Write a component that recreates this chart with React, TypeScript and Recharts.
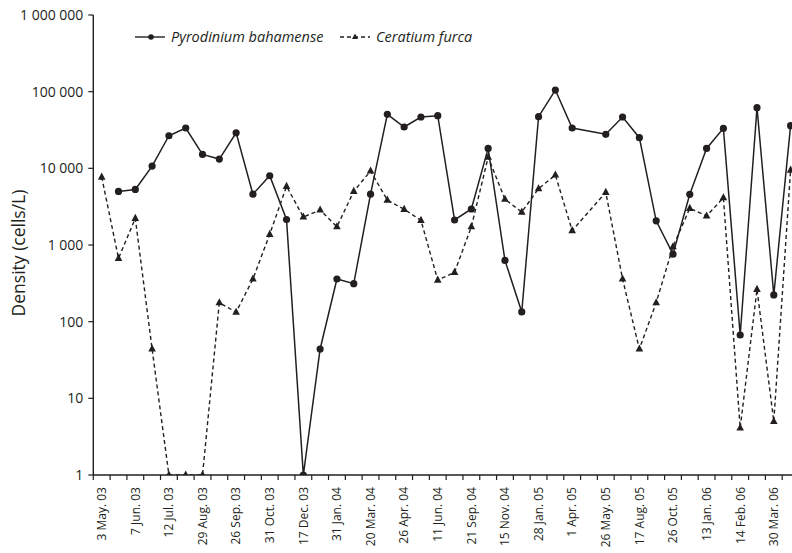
import React from 'react';
import { LineChart, Line, XAxis, YAxis } from 'recharts';

// Sampling dates labelled on the x axis (every second sampling)
const tickLabels = [
  '3 May. 03', '7 Jun. 03', '12 Jul. 03', '29 Aug. 03', '26 Sep. 03', '31 Oct. 03',
  '17 Dec. 03', '31 Jan. 04', '20 Mar. 04', '26 Apr. 04', '11 Jun. 04', '21 Sep. 04',
  '15 Nov. 04', '28 Jan. 05', '1 Apr. 05', '26 May. 05', '17 Aug. 05', '26 Oct. 05',
  '13 Jan. 06', '14 Feb. 06', '30 Mar. 06',
];

// Cell densities (cells/L) per sampling, null = not sampled
const pyrodinium: (number | null)[] = [
  null, 5000, 5300, 10700, 26600, 33600, 15200, 13200, 29100, 4600,
  8000, 2150, 1, 44, 360, 313, 4600, 50700, 34600, 46700,
  48600, 2120, 2950, 18200, 630, 134, 47200, 105000, 33600, null,
  27800, 46700, 25100, 2070, 760, 4580, 18200, 33200, 67, 61800,
  223, 36000,
];

const ceratium: (number | null)[] = [
  7700, 670, 2230, 44, 1, 1, 1, 177, 133, 360,
  1380, 5830, 2320, 2860, 1730, 5010, 9230, 3860, 2920, 2100,
  349, 440, 1730, 14000, 3950, 2690, 5430, 8180, 1540, null,
  4870, 360, 44, 177, 950, 3010, 2390, 4140, 4.1, 264,
  5, 9500,
];

const yTicks = [1, 10, 100, 1000, 10000, 100000, 1000000];

const data = pyrodinium.map((p, i) => ({ idx: i, pyro: p, cera: ceratium[i] }));
const n = data.length;

// Ticks at category boundaries (tick marks) and at every second category (labels)
const xTicks: number[] = [];
for (let i = 0; i <= n; i++) xTicks.push(i - 0.5);
for (let i = 0; i < n; i += 2) xTicks.push(i);
xTicks.sort((a, b) => a - b);

const INK = '#231f20';
const FONT = '"Open Sans", sans-serif';

const fmt = (v: number) => String(v).replace(/\B(?=(\d{3})+(?!\d))/g, ' ');

const XTick = (props: any) => {
  const { x, y, payload } = props;
  const v = payload.value as number;
  if (!Number.isInteger(v)) {
    return <line x1={x} x2={x} y1={y} y2={y + 5} stroke={INK} strokeWidth={1.2} />;
  }
  const ty = y + 12;
  return (
    <text
      x={x}
      y={ty}
      dy="0.36em"
      transform={`rotate(-90 ${x} ${ty})`}
      textAnchor="end"
      fontSize={12}
      fontFamily={FONT}
      fill={INK}
    >
      {tickLabels[v / 2]}
    </text>
  );
};

const Circle = (props: any) => {
  const { cx, cy, value } = props;
  if (value == null || cx == null || cy == null) return null;
  return <circle cx={cx} cy={cy} r={3.6} fill={INK} />;
};

const Triangle = (props: any) => {
  const { cx, cy, value } = props;
  if (value == null || cx == null || cy == null) return null;
  return (
    <path
      d={`M${cx},${cy - 4.5} L${cx + 3.8},${cy + 2.6} L${cx - 3.8},${cy + 2.6} Z`}
      fill={INK}
    />
  );
};

export default function App() {
  return (
    <div
      style={{
        position: 'fixed',
        left: 0,
        top: 0,
        width: 792,
        height: 553,
        overflow: 'hidden',
        background: '#fff',
      }}
    >
      <LineChart
        width={800}
        height={553}
        data={data}
        margin={{ top: 15, right: 1, bottom: 0, left: 0 }}
      >
        <XAxis
          dataKey="idx"
          type="number"
          domain={[-0.5, n - 0.5]}
          ticks={xTicks}
          interval={0}
          tickLine={false}
          tickSize={0}
          tickMargin={0}
          height={78}
          axisLine={{ stroke: INK, strokeWidth: 1.4 }}
          tick={<XTick />}
          allowDataOverflow
        />
        <YAxis
          scale="log"
          domain={[1, 1000000]}
          ticks={yTicks}
          interval={0}
          allowDataOverflow
          width={93.3}
          tickSize={5}
          tickMargin={5}
          tickFormatter={fmt}
          tick={{ fill: INK, fontSize: 14, fontFamily: FONT }}
          tickLine={{ stroke: INK, strokeWidth: 1.2 }}
          axisLine={{ stroke: INK, strokeWidth: 1.4 }}
        />
        <Line
          type="linear"
          dataKey="pyro"
          stroke={INK}
          strokeWidth={1.5}
          dot={<Circle />}
          activeDot={false}
          connectNulls
          isAnimationActive={false}
        />
        <Line
          type="linear"
          dataKey="cera"
          stroke={INK}
          strokeWidth={1.4}
          strokeDasharray="4 3"
          dot={<Triangle />}
          activeDot={false}
          connectNulls
          isAnimationActive={false}
        />
      </LineChart>
      <svg
        width={792}
        height={553}
        style={{ position: 'absolute', left: 0, top: 0, pointerEvents: 'none' }}
      >
        <text
          x={19}
          y={253}
          transform="rotate(-90 19 253)"
          textAnchor="middle"
          dy="0.36em"
          fontSize={17.5}
          fontFamily={FONT}
          fill={INK}
        >
          Density (cells/L)
        </text>
        <g fontFamily={FONT} fontSize={14.5} fontStyle="italic" fill={INK}>
          <line x1={135} x2={165} y1={37} y2={37} stroke={INK} strokeWidth={1.4} />
          <circle cx={151} cy={37} r={2.8} fill={INK} />
          <text x={171} y={37} dy="0.36em">Pyrodinium bahamense</text>
          <line
            x1={340}
            x2={370}
            y1={37}
            y2={37}
            stroke={INK}
            strokeWidth={1.4}
            strokeDasharray="4 3"
          />
          <path d="M355,33.6 L358,39 L352,39 Z" fill={INK} />
          <text x={376} y={37} dy="0.36em">Ceratium furca</text>
        </g>
      </svg>
    </div>
  );
}
